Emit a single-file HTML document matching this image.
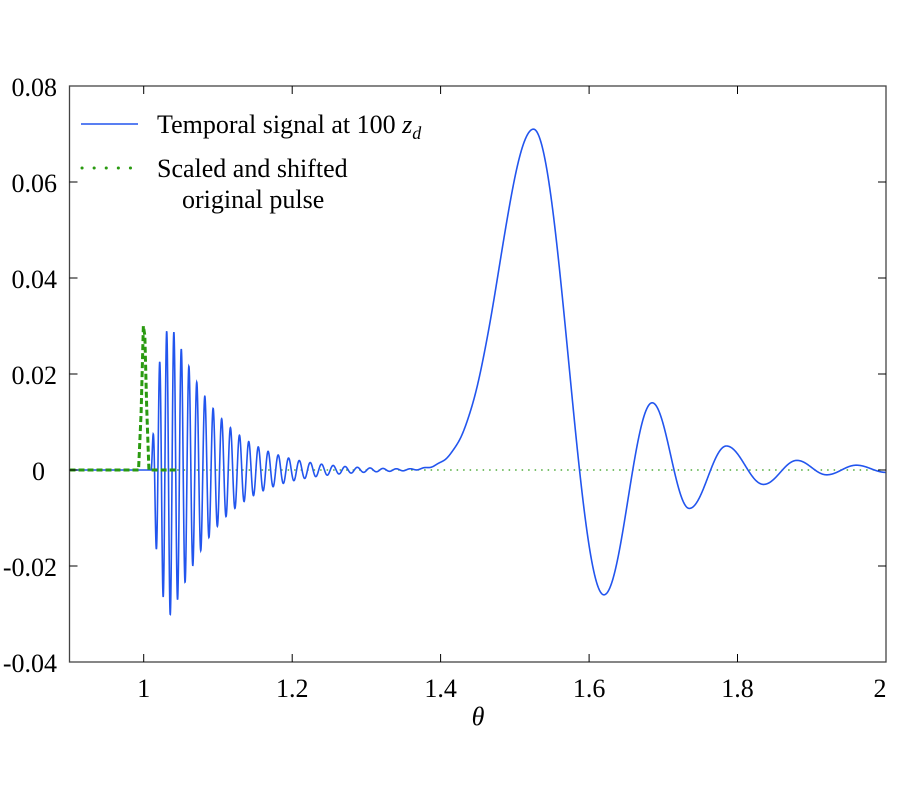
<!DOCTYPE html>
<html><head><meta charset="utf-8"><style>
body{margin:0;background:#fff}
svg text{font-family:"Liberation Serif",serif;fill:#000}
</style></head><body>
<svg id="s" width="900" height="800" xmlns="http://www.w3.org/2000/svg">
<rect x="0" y="0" width="900" height="800" fill="#fff"/>
<g id="plot"></g>
<rect x="69.5" y="86" width="816.5" height="576" fill="none" stroke="#444" stroke-width="1.3"/>
<g stroke="#000" stroke-width="1">
<line x1="143.7" y1="662" x2="143.7" y2="654"/><line x1="292.2" y1="662" x2="292.2" y2="654"/><line x1="440.6" y1="662" x2="440.6" y2="654"/><line x1="589.1" y1="662" x2="589.1" y2="654"/><line x1="737.5" y1="662" x2="737.5" y2="654"/>
<line x1="143.7" y1="86" x2="143.7" y2="94"/><line x1="292.2" y1="86" x2="292.2" y2="94"/><line x1="440.6" y1="86" x2="440.6" y2="94"/><line x1="589.1" y1="86" x2="589.1" y2="94"/><line x1="737.5" y1="86" x2="737.5" y2="94"/>
<line x1="69.5" y1="182" x2="77.5" y2="182"/><line x1="69.5" y1="278" x2="77.5" y2="278"/><line x1="69.5" y1="374" x2="77.5" y2="374"/><line x1="69.5" y1="470" x2="77.5" y2="470"/><line x1="69.5" y1="566" x2="77.5" y2="566"/>
<line x1="886" y1="182" x2="878" y2="182"/><line x1="886" y1="278" x2="878" y2="278"/><line x1="886" y1="374" x2="878" y2="374"/><line x1="886" y1="470" x2="878" y2="470"/><line x1="886" y1="566" x2="878" y2="566"/>
</g>
<g font-size="26" text-anchor="end">
<text x="57" y="96">0.08</text><text x="57" y="192">0.06</text><text x="57" y="288">0.04</text><text x="57" y="384">0.02</text><text x="45" y="480">0</text><text x="57" y="576">-0.02</text><text x="57" y="672">-0.04</text>
</g>
<g font-size="26" text-anchor="middle">
<text x="143.7" y="697">1</text><text x="292.2" y="697">1.2</text><text x="440.6" y="697">1.4</text><text x="589.1" y="697">1.6</text><text x="737.5" y="697">1.8</text><text x="880" y="697">2</text>
<text x="478" y="725" font-style="italic">θ</text>
</g>
<line x1="81" y1="124" x2="138" y2="124" stroke="#2255ee" stroke-width="1.6"/>
<line x1="82" y1="168" x2="140" y2="168" stroke="#2a9a10" stroke-width="3" stroke-dasharray="0.1 12" stroke-linecap="round"/>
<g font-size="26">
<text x="157" y="133">Temporal signal at 100 <tspan font-style="italic">z</tspan><tspan font-style="italic" font-size="18" dy="6">d</tspan></text>
<text x="157" y="177">Scaled and shifted</text>
<text x="182" y="208">original pulse</text>
</g>
</svg>
<script>
function X(t){return 69.5+(t-0.9)*742.3}
function Y(v){return 470-v*4800}
function chirp(t){
 if(t<1.01)return 0;
 var u=t-1.01,p0=0.009,k=0.028;
 var ph=2*Math.PI/k*Math.log((p0+k*u)/p0);
 var env=0.033*(1-Math.exp(-u/0.01))*Math.exp(-Math.max(0,t-1.035)/0.062);
 return env*Math.sin(ph);
}
var ex=[[1.525,0.071],[1.62,-0.026],[1.685,0.014],[1.735,-0.008],[1.785,0.005],[1.835,-0.003],[1.88,0.002],[1.92,-0.001],[1.96,0.001],[2.0,-0.0005]];
function big(t){
 if(t<=1.525){var d=(t-1.525)/0.064;return 0.071*Math.exp(-d*d);}
 for(var i=0;i<ex.length-1;i++){var a=ex[i],b=ex[i+1];
  if(t<=b[0]){var f=(t-a[0])/(b[0]-a[0]);var c=(1-Math.cos(Math.PI*f))/2;return a[1]+(b[1]-a[1])*c;}}
 return -0.0005;
}
var d="";
for(var t=0.9;t<=2.0;t+=0.0002){var v=chirp(t)+big(t);d+=(d?"L":"M")+X(t).toFixed(2)+" "+Y(v).toFixed(2);}
var g=document.getElementById("plot"),NS="http://www.w3.org/2000/svg";
function add(tag,at){var e=document.createElementNS(NS,tag);for(var k in at)e.setAttribute(k,at[k]);g.appendChild(e);}
add("line",{x1:X(1.045),y1:470,x2:886,y2:470,stroke:"#2a9a10","stroke-width":1.3,"stroke-dasharray":"1.5 5"});
add("path",{d:d,fill:"none",stroke:"#2255ee","stroke-width":1.6});
var gd="M"+X(0.9)+" 470L"+X(0.993)+" 470L"+X(0.9965)+" "+Y(0.012)+"L"+X(0.9995)+" "+Y(0.03)+"L"+X(1.0015)+" "+Y(0.028)+"L"+X(1.004)+" "+Y(0.013)+"L"+X(1.007)+" 470L"+X(1.045)+" 470";
add("path",{d:gd,fill:"none",stroke:"#2a9a10","stroke-width":3,"stroke-dasharray":"6 3"});
</script>
</body></html>
